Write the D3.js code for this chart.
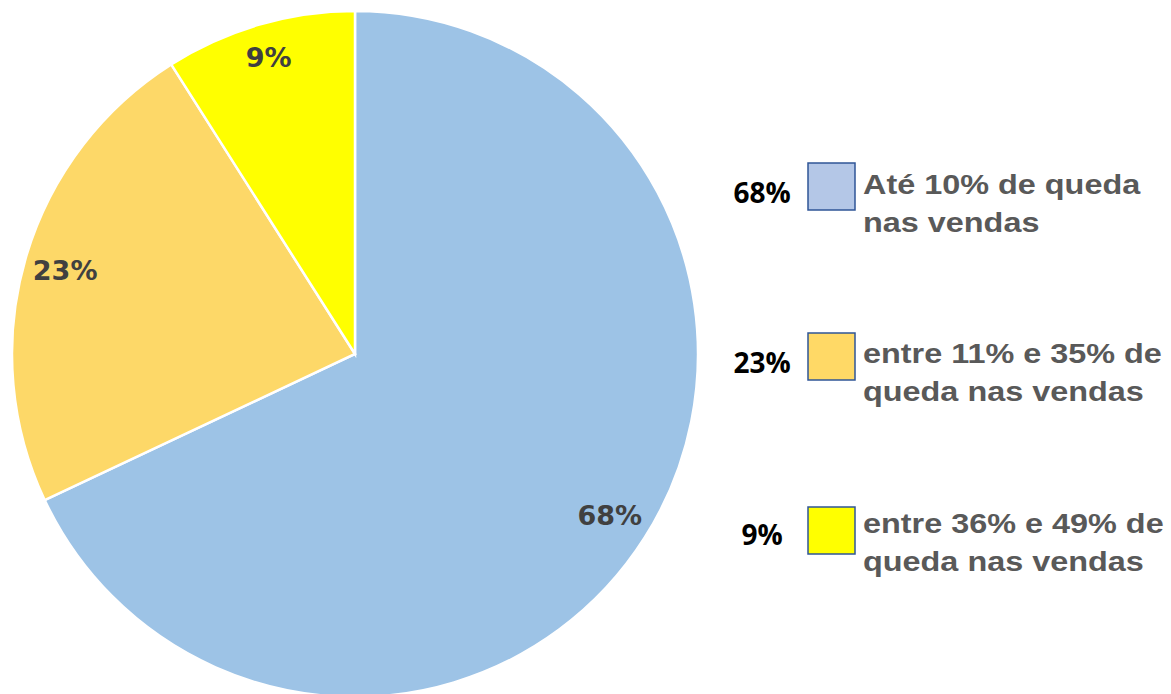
<!DOCTYPE html>
<html>
<head>
<meta charset="utf-8">
<script src="https://cdn.jsdelivr.net/npm/d3@7"></script>
<style>
  html, body { margin: 0; padding: 0; background: #fff; }
  #chart { width: 1171px; height: 694px; }
</style>
</head>
<body>
<div id="chart"></div>
<script>
const categories = [
  ["Até 10% de queda", "nas vendas"],
  ["entre 11% e 35% de", "queda nas vendas"],
  ["entre 36% e 49% de", "queda nas vendas"]
];
const values = [68, 23, 9];
const pctLabels = ["68%", "23%", "9%"];
const sliceColors = ["#9DC3E6", "#FDD868", "#FFFF00"];
const swatchColors = ["#B4C7E7", "#FFD966", "#FFFF00"];

let width = 1171,
    height = 694,
    cx = 355,
    cy = 354,
    radius = 343;

let svg = d3.select('#chart')
  .append('svg')
  .attr('width', width)
  .attr('height', height);

let pie = d3.pie().sort(null).value(d => d);
let arcs = pie(values);

let arc = d3.arc().innerRadius(0).outerRadius(radius);
let labelArc = d3.arc().innerRadius(radius * 0.88).outerRadius(radius * 0.88);

let g = svg.append('g')
  .attr('transform', `translate(${cx}, ${cy})`);

g.selectAll('path')
  .data(arcs)
  .enter()
  .append('path')
  .attr('d', arc)
  .attr('fill', (d, i) => sliceColors[i])
  .attr('stroke', '#fff')
  .attr('stroke-width', 2.5);

// small slices sit a bit further out, like the original
g.selectAll('text.slice')
  .data(arcs)
  .enter()
  .append('text')
  .attr('class', 'slice')
  .attr('transform', d => {
    let c = labelArc.centroid(d),
        k = d.value < 10 ? 1.025 : 1;
    return `translate(${c[0] * k}, ${c[1] * k})`;
  })
  .attr('text-anchor', 'middle')
  .attr('dy', '0.36em')
  .attr('font-family', 'DejaVu Sans, sans-serif')
  .attr('font-weight', 'bold')
  .attr('font-size', 27)
  .attr('fill', '#404040')
  .text((d, i) => pctLabels[i]);

// Legend
let swatchY = [163, 333, 507],
    textY = [194, 363, 533],
    pctY = [203, 373, 545];

let legend = svg.selectAll('g.legend')
  .data(categories)
  .enter()
  .append('g')
  .attr('class', 'legend');

legend.append('rect')
  .attr('x', 808)
  .attr('y', (d, i) => swatchY[i])
  .attr('width', 47)
  .attr('height', 47)
  .attr('fill', (d, i) => swatchColors[i])
  .attr('stroke', '#2F5597')
  .attr('stroke-width', 1.5);

legend.append('text')
  .attr('x', 762)
  .attr('y', (d, i) => pctY[i])
  .attr('text-anchor', 'middle')
  .attr('font-family', 'Open Sans, sans-serif')
  .attr('font-weight', 'bold')
  .attr('font-size', 28)
  .attr('fill', '#000')
  .text((d, i) => values[i] + '%');

// category text is stretched wide in the original
legend.append('text')
  .attr('transform', (d, i) => `translate(863, ${textY[i]}) scale(1.2, 1)`)
  .attr('font-family', 'Liberation Sans, Arial, sans-serif')
  .attr('font-weight', 'bold')
  .attr('font-size', 27)
  .attr('fill', '#595959')
  .selectAll('tspan')
  .data(d => d)
  .enter()
  .append('tspan')
  .attr('x', 0)
  .attr('y', (d, j) => j * 38)
  .text(d => d);
</script>
</body>
</html>
